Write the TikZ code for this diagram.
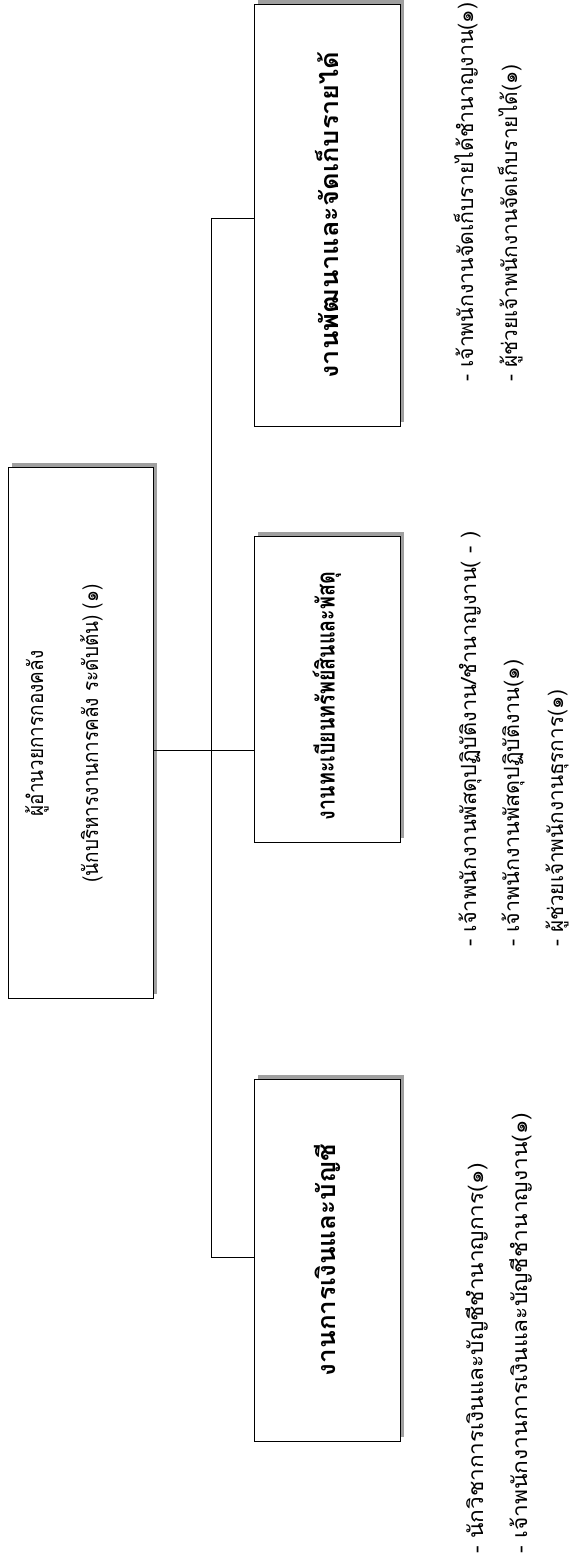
\documentclass[tikz,border=0pt]{standalone}
\usepackage{fontspec}
\usepackage{graphicx}
\newfontfamily\thaifont[Script=Thai]{Loma}
\newfontfamily\thainarrow[Script=Thai,FakeStretch=0.88]{Loma}
\usetikzlibrary{shadows}
\newcommand{\fitlen}[2]{\resizebox{#1pt}{\height}{#2}}
\begin{document}
\begin{tikzpicture}[x=1pt,y=1pt,
  box/.style={draw=black, line width=0.9pt, fill=white, inner sep=0pt,
    drop shadow={shadow xshift=4pt, shadow yshift=4pt, fill=gray!75, opacity=1}},
  conn/.style={draw=black, line width=0.9pt},
  boxfont/.style={font=\thaifont\bfseries\fontsize{25}{28}\selectfont},
  item/.style={rotate=90, anchor=base west, inner sep=0pt,
    font=\thaifont\fontsize{21}{24}\selectfont}]
\useasboundingbox[fill=white] (0,0) rectangle (575,-1562);
% boxes
\node[box, minimum width=145pt, minimum height=531pt] (root) at (80.5,-732.5) {};
\node[rotate=90, inner sep=0pt] (roottext) at (59.5,-733.5)
  {\thainarrow\fontsize{21.5}{55}\selectfont\begin{tabular}{@{}c@{}}ผู้อำนวยการกองคลัง\\(นักบริหารงานการคลัง ระดับต้น) (๑)\end{tabular}};
\node[box, boxfont, minimum width=146pt, minimum height=422pt] (top) at (327,-215)
  {\rotatebox{90}{\fitlen{327}{งานพัฒนาและจัดเก็บรายได้}}};
\node[box, boxfont, minimum width=146pt, minimum height=306pt] (mid) at (327,-689)
  {\rotatebox{90}{\fitlen{248}{งานทะเบียนทรัพย์สินและพัสดุ}\hspace{14pt}}};
\node[box, boxfont, minimum width=146pt, minimum height=362pt] (bot) at (327,-1260)
  {\rotatebox{90}{\fitlen{232}{งานการเงินและบัญชี}}};
% connectors
\coordinate (bt) at (211,-218);
\coordinate (bm) at (211,-750);
\coordinate (bb) at (211,-1257);
\draw[conn] (bt) -- (bb);
\draw[conn] (bt) -- (top.west |- bt);
\draw[conn] (bb) -- (bot.west |- bb);
\draw[conn] (root.east |- bm) -- (mid.west |- bm);
% lists
\node[item] (t1) at (473,-382) {\fitlen{379}{- เจ้าพนักงานจัดเก็บรายได้ชำนาญงาน(๑)}};
\node[item] (t2) at (517,-382) {\fitlen{317}{- ผู้ช่วยเจ้าพนักงานจัดเก็บรายได้(๑)}};
\node[item] (m1) at (476,-947) {\fitlen{415}{- เจ้าพนักงานพัสดุปฏิบัติงาน/ชำนาญงาน( - )}};
\node[item] (m2) at (519,-947) {\fitlen{287}{- เจ้าพนักงานพัสดุปฏิบัติงาน(๑)}};
\node[item] (m3) at (563,-947) {\fitlen{257}{- ผู้ช่วยเจ้าพนักงานธุรการ(๑)}};
\node[item] (b1) at (483,-1554) {\fitlen{391}{- นักวิชาการเงินและบัญชีชำนาญการ(๑)}};
\node[item] (b2) at (527,-1554) {\fitlen{441}{- เจ้าพนักงานการเงินและบัญชีชำนาญงาน(๑)}};
\end{tikzpicture}
\end{document}
